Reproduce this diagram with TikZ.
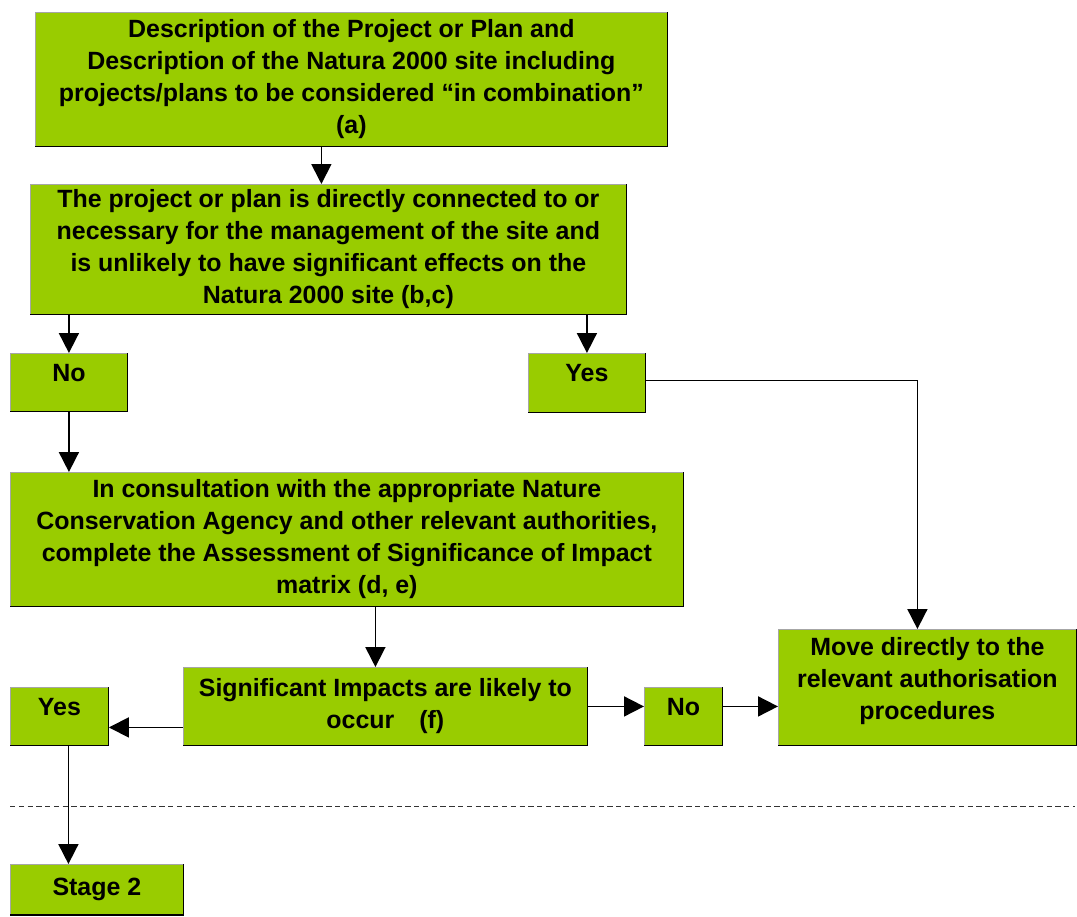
\documentclass[tikz,border=0pt]{standalone}
\usepackage{fontspec}
\setmainfont{Liberation Sans}
\usepackage{tikz}
\usetikzlibrary{arrows.meta, positioning, calc}
\definecolor{natgreen}{RGB}{153,204,0}

\begin{document}
\begin{tikzpicture}[
		x=0.02cm, y=-0.02cm,
		font=\fontsize{14.2}{18.2}\selectfont\bfseries,
		box/.style={anchor=north west, fill=natgreen, draw=gray!70, line width=0.5pt, align=center, inner sep=0pt},
		toptext/.style={inner ysep=0pt, text height=0.56cm, text depth=0.6cm},
		arr/.style={-{Triangle[length=0.4cm, width=0.4cm]}, line width=1pt}
		]
		\useasboundingbox (0,0) rectangle (1077,916);
		
		% Boxes
		\node[box, minimum width=12.64cm, minimum height=2.68cm] (desc) at (35,12) {
			Description of the Project or Plan and\\
			Description of the Natura 2000 site including\\
			projects/plans to be considered “in combination”\\
			(a)};
		\node[box, minimum width=11.92cm, minimum height=2.6cm] (conn) at (30,184) {
			The project or plan is directly connected to or\\
			necessary for the management of the site and\\
			is unlikely to have significant effects on the\\
			Natura 2000 site (b,c)};
		\node[box, toptext, minimum width=2.34cm, minimum height=1.16cm] (noA) at (10,353) {No};
		\node[box, toptext, minimum width=2.34cm, minimum height=1.18cm] (yesA) at (528,353) {Yes};
		\node[box, minimum width=13.46cm, minimum height=2.68cm] (consult) at (10,472) {
			In consultation with the appropriate Nature\\
			Conservation Agency and other relevant authorities,\\
			complete the Assessment of Significance of Impact\\
			matrix (d, e)};
		\node[box, minimum width=8.08cm, minimum height=1.56cm] (impact) at (183,667) {
			Significant Impacts are likely to\\
			occur\quad(f)};
		\node[box, toptext, minimum width=1.96cm, minimum height=1.16cm] (yesB) at (10,687) {Yes};
		\node[box, toptext, minimum width=1.56cm, minimum height=1.16cm] (noB) at (644,687) {No};
		\node[box, minimum width=5.96cm, minimum height=2.32cm] (move) at (778,629) {};
		\node[align=center, inner sep=0pt] (movetext) at ([yshift=0.12cm]move.center) {
			Move directly to the\\
			relevant authorisation\\
			procedures};
		\node[box, minimum width=3.46cm, minimum height=1.0cm] (stage) at (10,864) {Stage 2};
		
		% Dark lower and right edges
		\foreach \n in {desc, conn, noA, yesA, consult, impact, yesB, noB, move, stage}
			\draw[black, line width=0.7pt] (\n.north east) -- (\n.south east) -- (\n.south west);
		
		% Connectors
		\draw[arr] ([xshift=-0.6cm]desc.south) -- ([xshift=-0.6cm]desc.south |- conn.north);
		\draw[arr] (noA.north |- conn.south) -- (noA.north);
		\draw[arr] (yesA.north |- conn.south) -- (yesA.north);
		\draw[arr] (noA.south) -- (noA.south |- consult.north);
		\draw[arr] ([yshift=0.05cm]yesA.east) -| ([xshift=-0.2cm]move.north);
		\draw[arr] ([xshift=-0.2cm]impact.north |- consult.south) -- ([xshift=-0.2cm]impact.north);
		\draw[arr] ([yshift=-0.42cm]impact.west) -- ([yshift=-0.42cm]impact.west -| yesB.east);
		\draw[arr] (impact.east) -- (impact.east -| noB.west);
		\draw[arr] (noB.east |- impact.east) -- (move.west |- impact.east);
		\draw[arr] ([xshift=0.18cm]yesB.south) -- ([xshift=0.18cm]yesB.south |- stage.north);
		
		% Stage divider
		\draw[dash pattern=on 3pt off 2pt, line width=0.4pt, black!80] (10,806) -- (1075,806);
		
	\end{tikzpicture}
\end{document}
